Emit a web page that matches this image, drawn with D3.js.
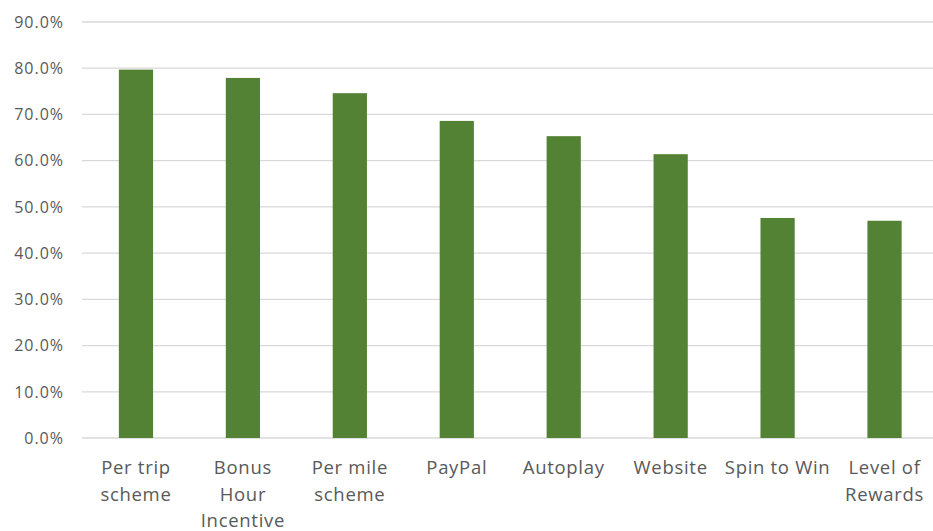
<!DOCTYPE html>
<html>
<head>
<meta charset="utf-8">
<script src="https://cdn.jsdelivr.net/npm/d3@7"></script>
<style>
  body { margin: 0; background: #fff; }
  text { font-family: "Open Sans", sans-serif; fill: #595959; }
</style>
</head>
<body>
<svg width="933" height="531"></svg>
<script>
let categories = [
    ["Per trip", "scheme"],
    ["Bonus", "Hour", "Incentive"],
    ["Per mile", "scheme"],
    ["PayPal"],
    ["Autoplay"],
    ["Website"],
    ["Spin to Win"],
    ["Level of", "Rewards"]
];
let values = [79.7, 77.9, 74.6, 68.6, 65.3, 61.4, 47.6, 47.0];
let yTicks = [0, 10, 20, 30, 40, 50, 60, 70, 80, 90];

let svg = d3.select("svg");

let x = d3.scaleBand()
    .domain(d3.range(categories.length))
    .range([82.5, 938])
    .paddingInner(0.68)
    .paddingOuter(0.34);

let y = d3.scaleLinear().domain([0, 90]).range([438, 22]);

// gridlines
svg.append("g")
    .selectAll("line")
    .data(yTicks)
    .join("line")
    .attr("x1", 82)
    .attr("x2", 933)
    .attr("y1", function (d) { return y(d); })
    .attr("y2", function (d) { return y(d); })
    .attr("stroke", "#d9d9d9")
    .attr("stroke-width", 1.3);

// y labels
svg.append("g")
    .selectAll("text")
    .data(yTicks)
    .join("text")
    .attr("x", 64)
    .attr("y", function (d) { return y(d); })
    .attr("dy", "0.36em")
    .attr("text-anchor", "end")
    .style("font-size", "16px")
    .style("letter-spacing", "1px")
    .text(function (d) { return d.toFixed(1) + "%"; });

// bars
svg.append("g")
    .selectAll("rect")
    .data(values)
    .join("rect")
    .attr("x", function (d, i) { return x(i); })
    .attr("width", x.bandwidth())
    .attr("y", function (d) { return y(d); })
    .attr("height", function (d) { return y(0) - y(d); })
    .attr("fill", "#548235");

// category labels
let labels = svg.append("g")
    .selectAll("text")
    .data(categories)
    .join("text")
    .attr("text-anchor", "middle")
    .attr("transform", function (d, i) { return "translate(" + (x(i) + x.bandwidth() / 2) + ",474)"; })
    .style("font-size", "18.5px")
    .style("letter-spacing", "0.7px");

labels.selectAll("tspan")
    .data(function (d) { return d; })
    .join("tspan")
    .attr("x", 0)
    .attr("dy", function (d, i) { return i === 0 ? 0 : 26.5; })
    .text(function (d) { return d; });
</script>
</body>
</html>
